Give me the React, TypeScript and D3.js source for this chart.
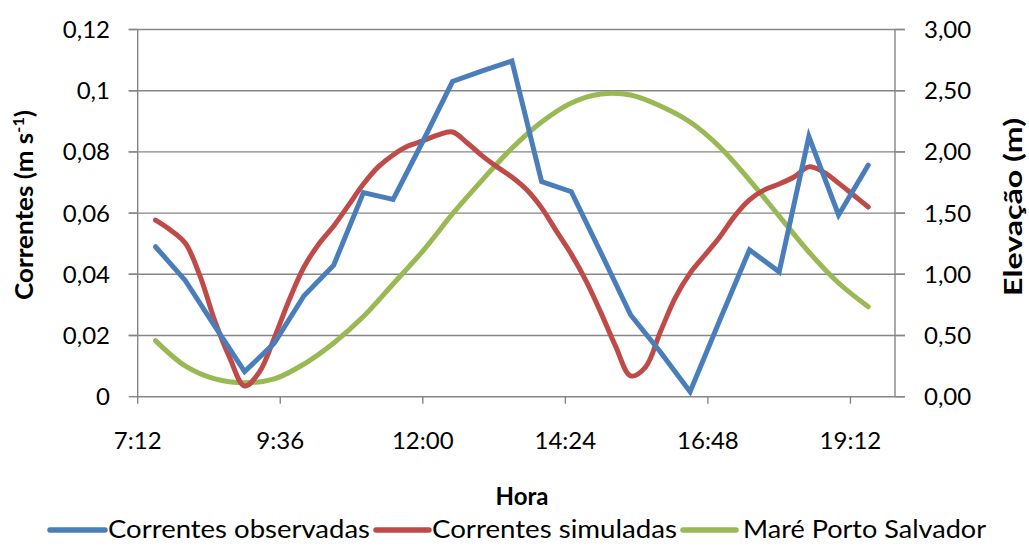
import React from "react";
import * as d3 from "d3";

// X axis tick labels (time of day)
const xTickLabels = ["7:12", "9:36", "12:00", "14:24", "16:48", "19:12"];
// Left axis ticks (currents, m/s)
const leftTicks = [0, 0.02, 0.04, 0.06, 0.08, 0.1, 0.12];
const leftTickLabels = ["0", "0,02", "0,04", "0,06", "0,08", "0,1", "0,12"];
// Right axis ticks (elevation, m)
const rightTicks = [0, 0.5, 1, 1.5, 2, 2.5, 3];
const rightTickLabels = ["0,00", "0,50", "1,00", "1,50", "2,00", "2,50", "3,00"];

// Observation times every 30 minutes
const times30 = [
  "7:30", "8:00", "8:30", "9:00", "9:30", "10:00", "10:30", "11:00", "11:30",
  "12:00", "12:30", "13:00", "13:30", "14:00", "14:30", "15:00", "15:30",
  "16:00", "16:30", "17:00", "17:30", "18:00", "18:30", "19:00", "19:30",
];
// Correntes observadas (m/s)
const observed = [
  0.049, 0.038, 0.023, 0.0082, 0.0175, 0.033, 0.043, 0.0667, 0.0645,
  0.0834, 0.103, 0.1065, 0.1097, 0.0703, 0.067, 0.047, 0.0267,
  0.0146, 0.0016, 0.025, 0.048, 0.0408, 0.085, 0.0594, 0.0757,
];
// Maré Porto Salvador (m)
const tide = [
  0.458, 0.251, 0.145, 0.114, 0.145, 0.267, 0.439, 0.655, 0.921,
  1.19, 1.493, 1.77, 2.03, 2.244, 2.4, 2.473, 2.465,
  2.375, 2.244, 2.04, 1.77, 1.476, 1.182, 0.929, 0.735,
];
// Simulated currents read every 15 minutes
const times15 = [
  "7:30", "7:45", "8:00", "8:15", "8:30", "8:45", "9:00", "9:15", "9:30", "9:45",
  "10:00", "10:15", "10:30", "10:45", "11:00", "11:15", "11:30", "11:45",
  "12:00", "12:15", "12:30", "12:45", "13:00", "13:15", "13:30", "13:45",
  "14:00", "14:15", "14:30", "14:45", "15:00", "15:15", "15:30", "15:45",
  "16:00", "16:15", "16:30", "16:45", "17:00", "17:15", "17:30", "17:45",
  "18:00", "18:15", "18:30", "18:45", "19:00", "19:15", "19:30",
];
// Correntes simuladas (m/s)
const simulated = [
  0.0577, 0.0545, 0.0502, 0.0394, 0.0247, 0.0127, 0.0035, 0.0081, 0.0192, 0.0316,
  0.0424, 0.0499, 0.0558, 0.0626, 0.0695, 0.0751, 0.079, 0.0819,
  0.0836, 0.0855, 0.0865, 0.0829, 0.0787, 0.0751, 0.0718, 0.0676,
  0.0617, 0.0541, 0.0466, 0.0378, 0.0274, 0.0163, 0.0068, 0.0097,
  0.0212, 0.0323, 0.0404, 0.0463, 0.0522, 0.059, 0.0643, 0.0676,
  0.0695, 0.0718, 0.0751, 0.0734, 0.0698, 0.0659, 0.062,
];

const seriesNames = ["Correntes observadas", "Correntes simuladas", "Maré Porto Salvador"];
const colors = ["#4A7EBB", "#BE4B48", "#98B954"];

const toMin = (s: string) => {
  const [h, m] = s.split(":").map(Number);
  return h * 60 + m;
};

const W = 1029;
const H = 547;
const L = 137.7;
const R = 895;
const T = 29.5;
const B = 396.7;
const FONT = "Lato, 'Open Sans', 'DejaVu Sans', sans-serif";
const GRID = "#868686";

export default function App() {
  const x = d3.scaleLinear().domain([432, 1197]).range([L, R]);
  const yL = d3.scaleLinear().domain([0, 0.12]).range([B, T]);
  const yR = d3.scaleLinear().domain([0, 3]).range([B, T]);

  const obsLine = d3
    .line<number>()
    .x((_, i) => x(toMin(times30[i])))
    .y((d) => yL(d))
    .curve(d3.curveLinear);
  const simLine = d3
    .line<number>()
    .x((_, i) => x(toMin(times15[i])))
    .y((d) => yL(d))
    .curve(d3.curveCatmullRom.alpha(0.5));
  const tideLine = d3
    .line<number>()
    .x((_, i) => x(toMin(times30[i])))
    .y((d) => yR(d))
    .curve(d3.curveCatmullRom.alpha(0.5));

  const legendItems = [
    { line: [50, 105], text: 108, len: 262 },
    { line: [376, 429], text: 432, len: 245 },
    { line: [683, 736], text: 743, len: 243 },
  ];

  return (
    <svg
      width={W}
      height={H}
      style={{ position: "absolute", left: 0, top: 0, background: "#fff" }}
      fontFamily={FONT}
    >
      <rect x={0} y={0} width={W} height={H} fill="#fff" />
      {/* gridlines */}
      {leftTicks.map((t, i) =>
        t === 0 ? null : (
          <line key={"g" + i} x1={L - 9} x2={R + 10} y1={yL(t)} y2={yL(t)} stroke={GRID} strokeWidth={1.4} />
        )
      )}
      {/* left axis ticks & labels */}
      {leftTicks.map((t, i) => (
        <g key={"l" + i}>
          <line x1={L - 9} x2={L} y1={yL(t)} y2={yL(t)} stroke={GRID} strokeWidth={1.4} />
          <text x={110} y={yL(t)} dy="0.35em" textAnchor="end" fontSize={24} fill="#000">
            {leftTickLabels[i]}
          </text>
        </g>
      ))}
      {/* right axis ticks & labels */}
      {rightTicks.map((t, i) => (
        <g key={"r" + i}>
          <line x1={R} x2={R + 10} y1={yR(t)} y2={yR(t)} stroke={GRID} strokeWidth={1.4} />
          <text x={924} y={yR(t)} dy="0.35em" textAnchor="start" fontSize={24} fill="#000">
            {rightTickLabels[i]}
          </text>
        </g>
      ))}
      {/* axes */}
      <line x1={L} x2={L} y1={T} y2={B} stroke={GRID} strokeWidth={1.4} />
      <line x1={R} x2={R} y1={T} y2={B} stroke={GRID} strokeWidth={1.4} />
      <line x1={L} x2={R + 10} y1={B} y2={B} stroke={GRID} strokeWidth={1.4} />
      {/* x ticks */}
      {xTickLabels.map((lab, i) => {
        const xx = x(toMin(lab));
        return (
          <g key={"x" + i}>
            <line x1={xx} x2={xx} y1={B} y2={B + 7} stroke={GRID} strokeWidth={1.4} />
            <text x={xx} y={441} dy="0.35em" textAnchor="middle" fontSize={24} fill="#000">
              {lab}
            </text>
          </g>
        );
      })}
      {/* series */}
      <path d={tideLine(tide) || ""} fill="none" stroke={colors[2]} strokeWidth={5} strokeLinejoin="round" strokeLinecap="round" />
      <path d={simLine(simulated) || ""} fill="none" stroke={colors[1]} strokeWidth={5} strokeLinejoin="round" strokeLinecap="round" />
      <path d={obsLine(observed) || ""} fill="none" stroke={colors[0]} strokeWidth={5} strokeLinejoin="miter" strokeLinecap="round" />
      {/* axis titles */}
      <text
        transform="translate(33,205) rotate(-90)"
        textAnchor="middle"
        fontSize={24}
        fontWeight="bold"
        fill="#000"
        textLength={190}
        lengthAdjust="spacingAndGlyphs"
      >
        Correntes (m s<tspan dy={-9} fontSize={15}>-1</tspan><tspan dy={9}>)</tspan>
      </text>
      <text
        transform="translate(1022,207) rotate(-90)"
        textAnchor="middle"
        fontSize={24}
        fontWeight="bold"
        fill="#000"
        textLength={178}
        lengthAdjust="spacingAndGlyphs"
      >
        Elevação (m)
      </text>
      <text x={522} y={497} dy="0.35em" textAnchor="middle" fontSize={24} fontWeight="bold" fill="#000">
        Hora
      </text>
      {/* legend */}
      {legendItems.map((it, i) => (
        <g key={"lg" + i}>
          <line x1={it.line[0]} x2={it.line[1]} y1={530} y2={530} stroke={colors[i]} strokeWidth={5.5} strokeLinecap="round" />
          <text
            x={it.text}
            y={529}
            dy="0.35em"
            fontSize={25}
            fill="#000"
            textLength={it.len}
            lengthAdjust="spacingAndGlyphs"
          >
            {seriesNames[i]}
          </text>
        </g>
      ))}
    </svg>
  );
}
